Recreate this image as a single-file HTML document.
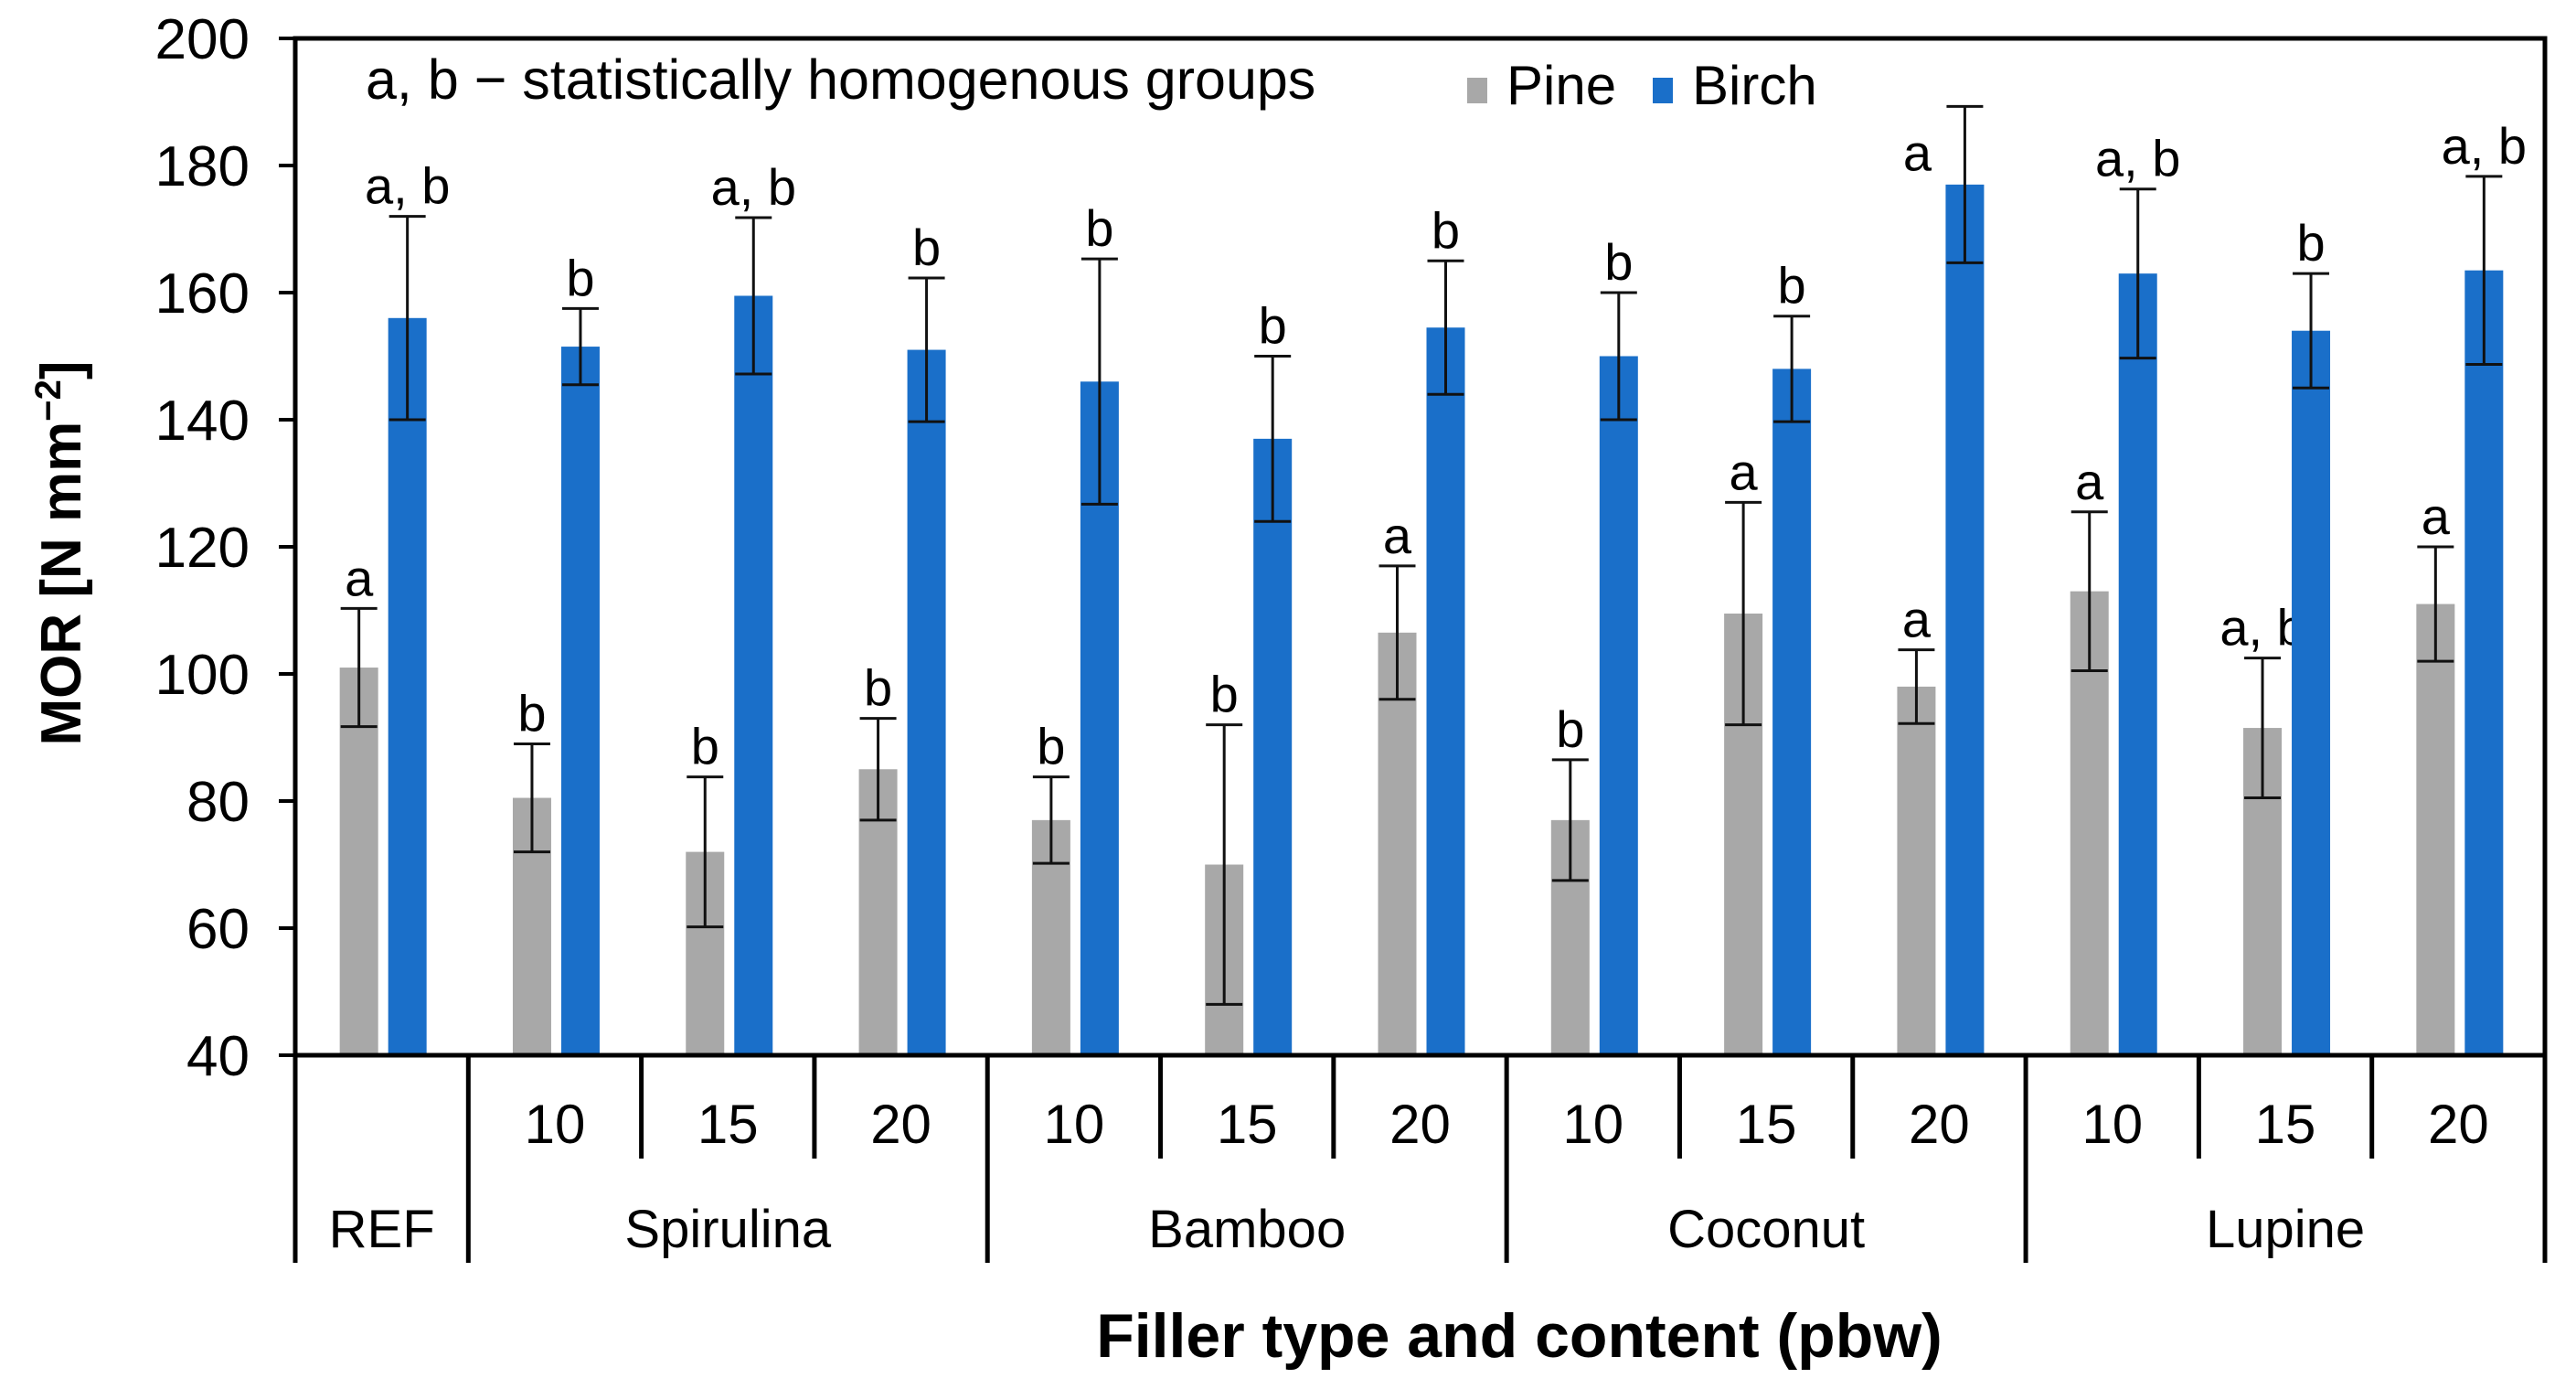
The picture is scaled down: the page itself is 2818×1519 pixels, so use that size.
<!DOCTYPE html>
<html><head><meta charset="utf-8"><style>
body{margin:0;background:#fff}
svg text{font-family:"Liberation Sans",sans-serif;fill:#000}
</style></head><body>
<svg id="chart" width="2818" height="1514" viewBox="0 0 2818 1514" xmlns="http://www.w3.org/2000/svg">
<rect width="2818" height="1514" fill="#fff"/>
<g id="marks"></g>
<g id="axes"></g>
</svg>
<script>
const ticks = [40,60,80,100,120,140,160,180,200];
const contents = ["","10","15","20","10","15","20","10","15","20","10","15","20"];
const groups = ["REF","Spirulina","Bamboo","Coconut","Lupine"];
const groupSpan = [1,3,3,3,3];
const pine = [101,80.5,72,85,77,70,106.5,77,109.5,98,113,91.5,111];
const pineErr = [9.3,8.5,11.8,8,6.8,22,10.5,9.5,17.5,5.8,12.5,11,9];
const birch = [156,151.5,159.5,151,146,137,154.5,150,148,177,163,154,163.5];
const birchErr = [16,6,12.3,11.3,19.3,13,10.5,10,8.3,12.3,13.3,9,14.8];
const pineLetters = ["a","b","b","b","b","b","a","b","a","a","a","a, b","a"];
const birchLetters = ["a, b","b","a, b","b","b","b","b","b","b","a","a, b","b","a, b"];

const X0=323,X1=2784,Y0=1154,Y1=42,N=contents.length;
const cw=(X1-X0)/N;
const y=v=>Y0-(v-40)/(200-40)*(Y0-Y1);
const xc=i=>X0+cw*(i+0.5);
const NS="http://www.w3.org/2000/svg";
const marks=document.getElementById('marks'),axes=document.getElementById('axes');
function mk(tag,attrs,parent,txt){const e=document.createElementNS(NS,tag);for(const k in attrs)e.setAttribute(k,attrs[k]);if(txt!==undefined)e.textContent=txt;parent.appendChild(e);return e;}

const BW=42;
function series(vals,errs,letters,off,color,nm){
  vals.forEach((v,i)=>{
    const cx=xc(i)+off;
    const r=mk('rect',{x:cx-BW/2,y:y(v),width:BW,height:Y0-y(v),fill:color},marks);
    
    
    const top=y(v+errs[i]),bot=y(v-errs[i]);
    const g=mk('g',{stroke:'#111','stroke-width':3},marks);
    
    
    mk('line',{x1:cx,x2:cx,y1:top,y2:bot},g);
    mk('line',{x1:cx-20,x2:cx+20,y1:top,y2:top},g);
    mk('line',{x1:cx-20,x2:cx+20,y1:bot,y2:bot},g);
    let lx=cx,ly=top-14;
    if(top<120){lx=cx-52;ly=top+70;}
    const t=mk('text',{x:lx,y:ly,'text-anchor':'middle','font-size':56,'xml:space':'preserve'},marks,letters[i].replace(', ',',  '));
    
    
  });
}
series(pine,pineErr,pineLetters,-25,'#a8a8a8','pine');
series(birch,birchErr,birchLetters,28,'#1a6fc9','birch');

mk('rect',{x:X0,y:Y1,width:X1-X0,height:Y0-Y1,fill:'none',stroke:'#000','stroke-width':5},axes);
ticks.forEach(t=>{
  mk('line',{x1:X0-18,x2:X0,y1:y(t),y2:y(t),stroke:'#000','stroke-width':4},axes);
  const e=mk('text',{x:X0-50,y:y(t)+22,'text-anchor':'end','font-size':62},axes,t);
  
  
});
let idx=0;const majors=new Set([0]);
groupSpan.forEach(s=>{idx+=s;majors.add(idx);});
for(let i=0;i<=N;i++){
  const xx=X0+cw*i;
  mk('line',{x1:xx,x2:xx,y1:Y0,y2:majors.has(i)?1381:1267,stroke:'#000','stroke-width':5},axes);
}
contents.forEach((c,i)=>{
  if(!c)return;
  const e=mk('text',{x:xc(i),y:1250,'text-anchor':'middle','font-size':60},axes,c);
  
  
});
let start=0;
groups.forEach((g,k)=>{
  const cx=X0+cw*(start+groupSpan[k]/2);start+=groupSpan[k];
  const e=mk('text',{x:cx,y:1364,'text-anchor':'middle','font-size':58},axes,g);
  
  
});
</script>
<svg style="position:absolute;left:0;top:0" width="2818" height="1514">
<text x="1662" y="1484" text-anchor="middle" font-size="68" font-weight="bold" style="font-family:'Liberation Sans',sans-serif">Filler type and content (pbw)</text>
<text transform="translate(88,605) rotate(-90)" text-anchor="middle" font-size="62" font-weight="bold" style="font-family:'Liberation Sans',sans-serif">MOR [N mm<tspan dy="-22" font-size="40">−2</tspan><tspan dy="22">]</tspan></text>
<text x="400" y="108" font-size="61" style="font-family:'Liberation Sans',sans-serif">a, b − statistically homogenous groups</text>
<rect x="1605" y="85" width="22" height="28" fill="#a8a8a8"/>
<text x="1648" y="114" font-size="60" style="font-family:'Liberation Sans',sans-serif">Pine</text>
<rect x="1808" y="85" width="22" height="28" fill="#1a6fc9"/>
<text x="1851" y="114" font-size="60" style="font-family:'Liberation Sans',sans-serif">Birch</text>
</svg>
</body></html>
